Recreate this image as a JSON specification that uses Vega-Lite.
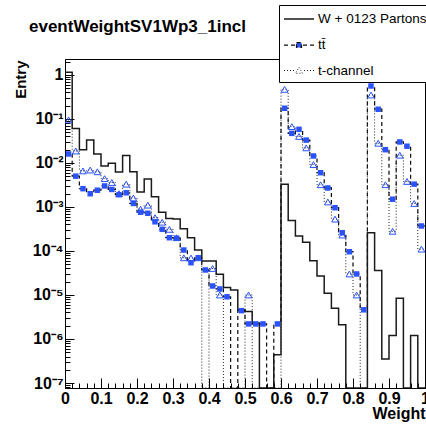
{
  "$schema": "https://vega.github.io/schema/vega-lite/v6.json",
  "width": 360,
  "height": 329,
  "autosize": "none",
  "padding": {"left": 65, "top": 59, "right": 1, "bottom": 39},
  "background": "white",
  "title": {"text": "eventWeightSV1Wp3_1incl", "anchor": "start", "frame": "group", "dx": -36, "offset": -44, "baseline": "alphabetic", "font": "Liberation Sans", "fontSize": 17, "fontWeight": "bold", "color": "black"},
  "config": {"view": {"stroke": "black", "strokeWidth": 1}, "font": "Liberation Sans"},
  "data": {"values": [
    {"s":"W + 0123 Partons","x":0,"y":1.15,"e":1},
    {"s":"W + 0123 Partons","x":0.01,"y":1.15},{"s":"W + 0123 Partons","x":0.03,"y":0.061},{"s":"W + 0123 Partons","x":0.05,"y":0.020},{"s":"W + 0123 Partons","x":0.07,"y":0.033},{"s":"W + 0123 Partons","x":0.09,"y":0.016},
    {"s":"W + 0123 Partons","x":0.11,"y":0.0085},{"s":"W + 0123 Partons","x":0.13,"y":0.0098},{"s":"W + 0123 Partons","x":0.15,"y":0.0062},{"s":"W + 0123 Partons","x":0.17,"y":0.0147},{"s":"W + 0123 Partons","x":0.19,"y":0.0063},
    {"s":"W + 0123 Partons","x":0.21,"y":0.0022},{"s":"W + 0123 Partons","x":0.23,"y":0.0043},{"s":"W + 0123 Partons","x":0.25,"y":0.0017},{"s":"W + 0123 Partons","x":0.27,"y":0.00076},{"s":"W + 0123 Partons","x":0.29,"y":0.00055},
    {"s":"W + 0123 Partons","x":0.31,"y":0.00053},{"s":"W + 0123 Partons","x":0.33,"y":0.00032},{"s":"W + 0123 Partons","x":0.35,"y":0.0002},{"s":"W + 0123 Partons","x":0.37,"y":0.000105},{"s":"W + 0123 Partons","x":0.39,"y":0.000059},
    {"s":"W + 0123 Partons","x":0.41,"y":0.000059},{"s":"W + 0123 Partons","x":0.43,"y":0.0000295},{"s":"W + 0123 Partons","x":0.45,"y":0.0000147},{"s":"W + 0123 Partons","x":0.47,"y":0.000013},{"s":"W + 0123 Partons","x":0.49,"y":0.0000046},
    {"s":"W + 0123 Partons","x":0.51,"y":0.0000042},{"s":"W + 0123 Partons","x":0.53,"y":0.0000023},{"s":"W + 0123 Partons","x":0.55,"y":0},{"s":"W + 0123 Partons","x":0.57,"y":0},{"s":"W + 0123 Partons","x":0.59,"y":0.00000044},
    {"s":"W + 0123 Partons","x":0.61,"y":0.0033},{"s":"W + 0123 Partons","x":0.63,"y":0.00049},{"s":"W + 0123 Partons","x":0.65,"y":0.00022},{"s":"W + 0123 Partons","x":0.67,"y":0.000158},{"s":"W + 0123 Partons","x":0.69,"y":0.00006},
    {"s":"W + 0123 Partons","x":0.71,"y":0.000027},{"s":"W + 0123 Partons","x":0.73,"y":0.000011},{"s":"W + 0123 Partons","x":0.75,"y":0.000005},{"s":"W + 0123 Partons","x":0.77,"y":0.0000021},{"s":"W + 0123 Partons","x":0.79,"y":0},
    {"s":"W + 0123 Partons","x":0.81,"y":0},{"s":"W + 0123 Partons","x":0.83,"y":0},{"s":"W + 0123 Partons","x":0.85,"y":0.00026},{"s":"W + 0123 Partons","x":0.87,"y":0.000036},{"s":"W + 0123 Partons","x":0.89,"y":0.00000035},
    {"s":"W + 0123 Partons","x":0.91,"y":0.0000012},{"s":"W + 0123 Partons","x":0.93,"y":0.0000084},{"s":"W + 0123 Partons","x":0.95,"y":0},{"s":"W + 0123 Partons","x":0.97,"y":0.0000012},{"s":"W + 0123 Partons","x":0.99,"y":0},
    {"s":"W + 0123 Partons","x":1,"y":0,"e":1},

    {"s":"tt̄","x":0,"y":0.016,"e":1},
    {"s":"tt̄","x":0.01,"y":0.016},{"s":"tt̄","x":0.03,"y":0.005},{"s":"tt̄","x":0.05,"y":0.0026},{"s":"tt̄","x":0.07,"y":0.002},{"s":"tt̄","x":0.09,"y":0.0024},
    {"s":"tt̄","x":0.11,"y":0.003},{"s":"tt̄","x":0.13,"y":0.0025},{"s":"tt̄","x":0.15,"y":0.0019},{"s":"tt̄","x":0.17,"y":0.0021},{"s":"tt̄","x":0.19,"y":0.0012},
    {"s":"tt̄","x":0.21,"y":0.00076},{"s":"tt̄","x":0.23,"y":0.00072},{"s":"tt̄","x":0.25,"y":0.00046},{"s":"tt̄","x":0.27,"y":0.00031},{"s":"tt̄","x":0.29,"y":0.0002},
    {"s":"tt̄","x":0.31,"y":0.000195},{"s":"tt̄","x":0.33,"y":0.000105},{"s":"tt̄","x":0.35,"y":0.000054},{"s":"tt̄","x":0.37,"y":0.00007},{"s":"tt̄","x":0.39,"y":0.000037},
    {"s":"tt̄","x":0.41,"y":0.000016},{"s":"tt̄","x":0.43,"y":0.0000137},{"s":"tt̄","x":0.45,"y":0.0000091},{"s":"tt̄","x":0.47,"y":0},{"s":"tt̄","x":0.49,"y":0.0000044},
    {"s":"tt̄","x":0.51,"y":0.0000022},{"s":"tt̄","x":0.53,"y":0.0000022},{"s":"tt̄","x":0.55,"y":0.0000022},{"s":"tt̄","x":0.57,"y":0},{"s":"tt̄","x":0.59,"y":0.0000022},
    {"s":"tt̄","x":0.61,"y":0.175},{"s":"tt̄","x":0.63,"y":0.047},{"s":"tt̄","x":0.65,"y":0.058},{"s":"tt̄","x":0.67,"y":0.033},{"s":"tt̄","x":0.69,"y":0.0144},
    {"s":"tt̄","x":0.71,"y":0.006},{"s":"tt̄","x":0.73,"y":0.0027},{"s":"tt̄","x":0.75,"y":0.00096},{"s":"tt̄","x":0.77,"y":0.00026},{"s":"tt̄","x":0.79,"y":0.000096},
    {"s":"tt̄","x":0.81,"y":0.00003},{"s":"tt̄","x":0.83,"y":0.0000046},{"s":"tt̄","x":0.85,"y":0.56},{"s":"tt̄","x":0.87,"y":0.166},{"s":"tt̄","x":0.89,"y":0.02},
    {"s":"tt̄","x":0.91,"y":0.0015},{"s":"tt̄","x":0.93,"y":0.03},{"s":"tt̄","x":0.95,"y":0.024},{"s":"tt̄","x":0.97,"y":0.0033},{"s":"tt̄","x":0.99,"y":0.00037},
    {"s":"tt̄","x":1,"y":0.00037,"e":1},

    {"s":"t-channel","x":0,"y":0.095,"e":1},
    {"s":"t-channel","x":0.01,"y":0.095},{"s":"t-channel","x":0.03,"y":0.0187},{"s":"t-channel","x":0.05,"y":0.0066},{"s":"t-channel","x":0.07,"y":0.0069},{"s":"t-channel","x":0.09,"y":0.0063},
    {"s":"t-channel","x":0.11,"y":0.0044},{"s":"t-channel","x":0.13,"y":0.0036},{"s":"t-channel","x":0.15,"y":0.002},{"s":"t-channel","x":0.17,"y":0.0033},{"s":"t-channel","x":0.19,"y":0.0016},
    {"s":"t-channel","x":0.21,"y":0.00089},{"s":"t-channel","x":0.23,"y":0.0011},{"s":"t-channel","x":0.25,"y":0.00057},{"s":"t-channel","x":0.27,"y":0.00045},{"s":"t-channel","x":0.29,"y":0.00031},
    {"s":"t-channel","x":0.31,"y":0.0002},{"s":"t-channel","x":0.33,"y":0.00007},{"s":"t-channel","x":0.35,"y":0.000069},{"s":"t-channel","x":0.37,"y":0.00007},{"s":"t-channel","x":0.39,"y":0},
    {"s":"t-channel","x":0.41,"y":0.00004},{"s":"t-channel","x":0.43,"y":0.00001},{"s":"t-channel","x":0.45,"y":0},{"s":"t-channel","x":0.47,"y":0},{"s":"t-channel","x":0.49,"y":0},
    {"s":"t-channel","x":0.51,"y":0.00001},{"s":"t-channel","x":0.53,"y":0},{"s":"t-channel","x":0.55,"y":0},{"s":"t-channel","x":0.57,"y":0},{"s":"t-channel","x":0.59,"y":0},
    {"s":"t-channel","x":0.61,"y":0.47},{"s":"t-channel","x":0.63,"y":0.067},{"s":"t-channel","x":0.65,"y":0.04},{"s":"t-channel","x":0.67,"y":0.022},{"s":"t-channel","x":0.69,"y":0.0092},
    {"s":"t-channel","x":0.71,"y":0.0032},{"s":"t-channel","x":0.73,"y":0.0013},{"s":"t-channel","x":0.75,"y":0.00053},{"s":"t-channel","x":0.77,"y":0.00023},{"s":"t-channel","x":0.79,"y":0.00003},
    {"s":"t-channel","x":0.81,"y":0.00001},{"s":"t-channel","x":0.83,"y":0},{"s":"t-channel","x":0.85,"y":0.35},{"s":"t-channel","x":0.87,"y":0.028},{"s":"t-channel","x":0.89,"y":0.0032},
    {"s":"t-channel","x":0.91,"y":0.00028},{"s":"t-channel","x":0.93,"y":0.015},{"s":"t-channel","x":0.95,"y":0.0038},{"s":"t-channel","x":0.97,"y":0.0012},{"s":"t-channel","x":0.99,"y":0.00011},
    {"s":"t-channel","x":1,"y":0.00011,"e":1}
  ]},
  "encoding": {
    "x": {
      "field": "x", "type": "quantitative",
      "scale": {"domain": [0, 1], "nice": false, "zero": false},
      "axis": {
        "values": [0,0.02,0.04,0.06,0.08,0.1,0.12,0.14,0.16,0.18,0.2,0.22,0.24,0.26,0.28,0.3,0.32,0.34,0.36,0.38,0.4,0.42,0.44,0.46,0.48,0.5,0.52,0.54,0.56,0.58,0.6,0.62,0.64,0.66,0.68,0.7,0.72,0.74,0.76,0.78,0.8,0.82,0.84,0.86,0.88,0.9,0.92,0.94,0.96,0.98,1],
        "tickSize": {"condition": {"test": "abs(datum.value*10 - round(datum.value*10)) < 0.001", "value": -10}, "value": -5},
        "labelExpr": "abs(datum.value*10 - round(datum.value*10)) < 0.001 ? (datum.value == 0 ? '0' : (datum.value > 0.999 ? '1' : format(datum.value, '.1f'))) : ''",
        "labelFont": "Liberation Sans", "labelFontSize": 16, "labelFontWeight": "bold", "labelColor": "black",
        "labelPadding": 12, "labelFlush": false, "labelOverlap": false,
        "domainColor": "black", "tickColor": "black", "grid": false,
        "title": "Weight", "titleFont": "Liberation Sans", "titleFontSize": 16, "titleFontWeight": "bold", "titleColor": "black",
        "titleAnchor": "end", "titleAlign": "right", "titleBaseline": "alphabetic", "titleX": 360, "titleY": 30
      }
    },
    "y": {
      "field": "y", "type": "quantitative",
      "scale": {"type": "log", "domain": [7.7e-8, 2.3], "nice": false, "clamp": true},
      "axis": {
        "values": [8e-8,9e-8,1e-7,2e-7,3e-7,4e-7,5e-7,6e-7,7e-7,8e-7,9e-7,1e-6,2e-6,3e-6,4e-6,5e-6,6e-6,7e-6,8e-6,9e-6,1e-5,2e-5,3e-5,4e-5,5e-5,6e-5,7e-5,8e-5,9e-5,1e-4,2e-4,3e-4,4e-4,5e-4,6e-4,7e-4,8e-4,9e-4,0.001,0.002,0.003,0.004,0.005,0.006,0.007,0.008,0.009,0.01,0.02,0.03,0.04,0.05,0.06,0.07,0.08,0.09,0.1,0.2,0.3,0.4,0.5,0.6,0.7,0.8,0.9,1,2],
        "tickSize": {"condition": {"test": "abs(log(datum.value)/LN10 - round(log(datum.value)/LN10)) < 0.001", "value": -9}, "value": -5},
        "labelExpr": "abs(log(datum.value)/LN10 - round(log(datum.value)/LN10)) < 0.001 ? (round(log(datum.value)/LN10) == 0 ? '1' : '10\u207b' + ['\u2070','\u00b9','\u00b2','\u00b3','\u2074','\u2075','\u2076','\u2077','\u2078','\u2079'][-round(log(datum.value)/LN10)]) : ''",
        "labelFont": "Liberation Sans", "labelFontSize": 16, "labelFontWeight": "bold", "labelColor": "black",
        "labelPadding": 11, "labelFlush": false, "labelOverlap": false,
        "domainColor": "black", "tickColor": "black", "grid": false,
        "title": "Entry", "titleFont": "Liberation Sans", "titleFontSize": 15, "titleFontWeight": "bold", "titleColor": "black",
        "titleAngle": 270, "titleAnchor": "end", "titleAlign": "right", "titleBaseline": "alphabetic", "titleX": -40, "titleY": 1
      }
    }
  },
  "layer": [
    {
      "mark": {"type": "line", "interpolate": "step", "invalid": "show", "clip": true},
      "encoding": {
        "color": {
          "field": "s", "type": "nominal",
          "scale": {"domain": ["W + 0123 Partons", "tt̄", "t-channel"], "range": ["#1a1a1a", "#111111", "#222222"]},
          "legend": {
            "orient": "none", "legendX": 214, "legendY": -54, "title": null, "direction": "vertical",
            "strokeColor": "black", "fillColor": "white", "padding": 5,
            "symbolSize": 256, "symbolType": "stroke", "symbolOffset": 6,
            "labelFont": "Liberation Sans", "labelFontSize": 13.5, "labelFontWeight": "normal", "labelColor": "black",
            "labelOffset": 10, "rowPadding": 10, "labelLimit": 0,
            "encode": {
              "symbols": {
                "update": {
                  "shape": {"signal": "datum.value == 't-channel' ? 'M-1.875,0H-1.75M-1.5,0H-1.375M-1.125,0H-1M-0.75,0H-0.625M0.625,0H0.75M1,0H1.125M1.375,0H1.5M1.75,0H1.875M0,-0.4L0.44,0.35H-0.44Z' : (datum.value == 'W + 0123 Partons' ? 'M-1.875,0H1.875' : 'M-1.875,0H-1.375M-1,0H-0.5M0.5,0H1M1.375,0H1.875M-0.31,-0.31H0.31V0.31H-0.31Z')"},
                  "stroke": {"signal": "datum.value == 'W + 0123 Partons' ? '#1a1a1a' : '#2a52ff'"},
                  "fill": {"signal": "datum.value == 't-channel' || datum.value == 'W + 0123 Partons' ? 'transparent' : '#2a52ff'"},
                  "strokeWidth": {"signal": "datum.value == 'W + 0123 Partons' ? 1.5 : 1"}
                }
              }
            }
          }
        },
        "strokeDash": {
          "field": "s", "type": "nominal",
          "scale": {"domain": ["W + 0123 Partons", "tt̄", "t-channel"], "range": [[1, 0], [4, 3], [1, 2]]},
          "legend": null
        },
        "strokeWidth": {
          "field": "s", "type": "ordinal",
          "scale": {"domain": ["W + 0123 Partons", "tt̄", "t-channel"], "range": [1.5, 1, 1]},
          "legend": null
        }
      }
    },
    {
      "transform": [{"filter": "datum.s == 'tt̄' && datum.y > 0 && datum.e != 1"}],
      "mark": {"type": "point", "shape": "square", "filled": true, "color": "#2a52ff", "size": 30, "opacity": 1}
    },
    {
      "transform": [{"filter": "datum.s == 't-channel' && datum.y > 0 && datum.e != 1"}],
      "mark": {"type": "point", "shape": "triangle-up", "filled": false, "color": "#2a52ff", "size": 45, "strokeWidth": 1, "opacity": 1}
    }
  ]
}
